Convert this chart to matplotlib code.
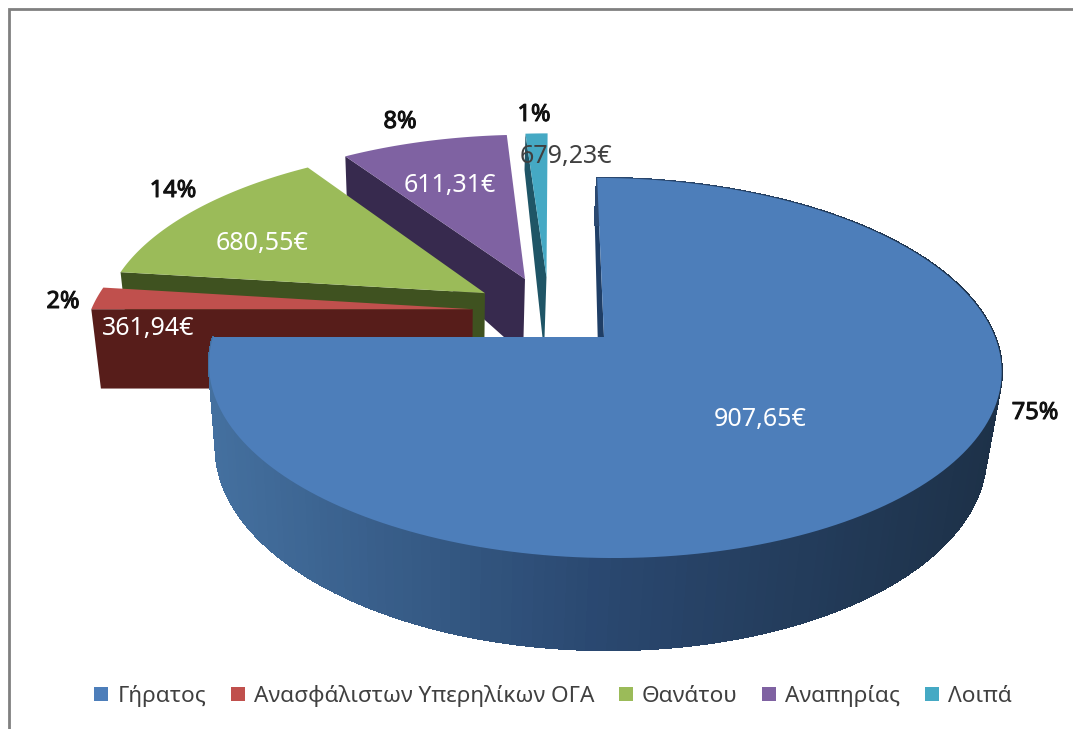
import numpy as np
import matplotlib
matplotlib.use('Agg')
import matplotlib.pyplot as plt
import matplotlib.patheffects as pe
from matplotlib.patches import Patch, Polygon
from matplotlib.collections import PolyCollection
from matplotlib.colors import LinearSegmentedColormap

plt.rcParams['font.family'] = ['Noto Sans', 'DejaVu Sans']

# data
categories = ['Γήρατος', 'Ανασφάλιστων Υπερηλίκων ΟΓΑ', 'Θανάτου', 'Αναπηρίας', 'Λοιπά']
shares = [75, 2, 13.6, 8.3, 1.1]
pct_labels = ['75%', '2%', '14%', '8%', '1%']
euro_labels = ['907,65€', '361,94€', '680,55€', '611,31€', '679,23€']

# styles
top_colors = ['#4D7EBA', '#C0504D', '#9BBB59', '#7F62A2', '#45A9C4']
side_colors = ['#1F3E66', '#571D1A', '#3F5220', '#372A4E', '#1F5566']
euro_colors = ['white', 'white', 'white', 'white', '#404040']
euro_pos = [(760, 419), (148, 328), (262, 243), (450, 185), (566, 156)]
pct_pos = [(1035, 413), (63, 302), (173, 191), (400, 122), (534, 115)]

# camera of the fake 3d pie, in pixels
cx, cy = 604, 337
a, b, skew, k = 391, 185, -8, 0.163
explode = 0.2
vanish_x, shrink = 450, 0.027
depth_v = [133, 155, 278, 305, 370, 558]
depth_px = [36, 40, 75, 79, 84, 92]


def project(x, y):
    w = 1 + k * y
    return cx + (a * x + skew * y) / w, cy - b * y / w


def to_bottom(u, v):
    d = np.interp(v, depth_v, depth_px)
    return u + (vanish_x - u) * shrink * d / 80, v + d


fig = plt.figure(figsize=(10.73, 7.29), dpi=100)
ax = fig.add_axes([0, 0, 1, 1])
ax.set_xlim(0, 1073)
ax.set_ylim(729, 0)
ax.axis('off')

# window border of the screenshot
ax.plot([9, 9, 1073], [729, 9, 9], color='#808080', lw=2, solid_joinstyle='miter')

edges = np.cumsum([0] + shares) / sum(shares) * 2 * np.pi
mids = (edges[:-1] + edges[1:]) / 2
off_x = np.sin(mids) - np.sin(mids[0])
off_y = np.cos(mids) - np.cos(mids[0])

rim_cmap = LinearSegmentedColormap.from_list('rim', ['#44709F', '#2A4870', '#1D3148'])

# back to front: last slice first, blue one on top
for i in range(len(shares) - 1, -1, -1):
    ox, oy = explode * off_x[i], explode * off_y[i]
    th = np.linspace(edges[i], edges[i + 1], 200)
    u, v = project(ox + np.sin(th), oy + np.cos(th))
    au, av = project(ox, oy)
    bu, bv = to_bottom(u, v)
    abu, abv = to_bottom(au, av)

    # radial side facing the viewer
    ax.add_patch(Polygon([(au, av), (u[0], v[0]), (bu[0], bv[0]), (abu, abv)],
                         fc=side_colors[i], ec='none', zorder=2))
    if i == 0:
        # outer wall with gradient
        quads = [[(u[j], v[j]), (u[j + 1], v[j + 1]), (bu[j + 1], bv[j + 1]), (bu[j], bv[j])]
                 for j in range(len(th) - 1)]
        cols = rim_cmap(np.clip((u[:-1] - 208) / 793, 0, 1))
        ax.add_collection(PolyCollection(quads, facecolors=cols, edgecolors=cols, lw=1,
                                         antialiaseds=False, zorder=2))

    ax.add_patch(Polygon(np.r_[[[au, av]], np.c_[u, v]], fc=top_colors[i], ec='none', zorder=2))

for i in range(len(shares)):
    ax.text(*euro_pos[i], euro_labels[i], color=euro_colors[i], fontsize=18,
            ha='center', va='center', zorder=5)
    t = ax.text(*pct_pos[i], pct_labels[i], color='#111111', fontsize=17,
                ha='center', va='center', zorder=5)
    t.set_path_effects([pe.withStroke(linewidth=0.7, foreground='#111111')])

handles = [Patch(fc=c, ec='none') for c in top_colors]
ax.legend(handles, categories, loc='center', bbox_to_anchor=(553, 696),
          bbox_transform=ax.transData, ncol=5, frameon=False, fontsize=16.3,
          handlelength=0.62, handleheight=0.62, handletextpad=0.4, columnspacing=1.08,
          labelcolor='#404040', borderpad=0, borderaxespad=0)

fig.savefig('out.png', dpi=100)
